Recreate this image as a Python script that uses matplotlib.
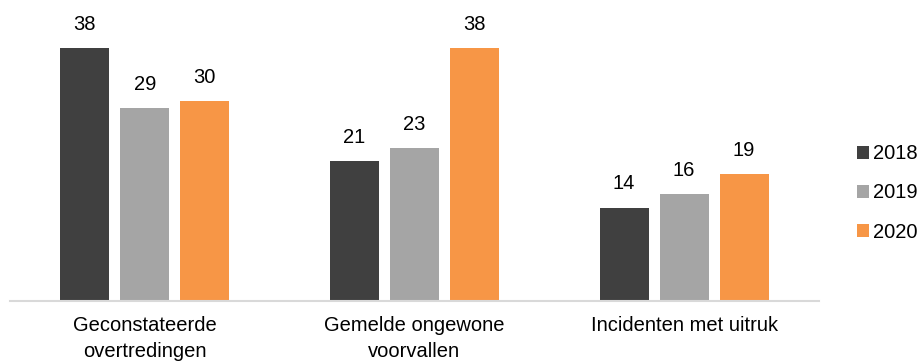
import matplotlib
matplotlib.use("Agg")
import matplotlib.pyplot as plt
import numpy as np
from matplotlib.patches import Patch

plt.rcParams['font.family'] = ['Liberation Sans', 'DejaVu Sans']

categories = ["Geconstateerde\novertredingen", "Gemelde ongewone\nvoorvallen", "Incidenten met uitruk"]
years = ["2018", "2019", "2020"]
values_2018 = [38, 21, 14]
values_2019 = [29, 23, 16]
values_2020 = [30, 38, 19]
colors = ["#404040", "#a5a5a5", "#f79646"]

W, H = 923, 361
FS = 14.5
fig = plt.figure(figsize=(W / 100, H / 100), dpi=100)
ax = fig.add_axes([10 / W, (H - 301) / H, 809 / W, 301 / H])

x = np.arange(len(categories))
bw = 0.182
step = 0.2225
series = [values_2018, values_2019, values_2020]
for i, (vals, c) in enumerate(zip(series, colors)):
    pos = x + (i - 1) * step
    bars = ax.bar(pos, vals, width=bw, color=c, zorder=2)
    for b, v in zip(bars, vals):
        ax.text(b.get_x() + b.get_width() / 2, v + 2.15, str(v),
                ha="center", va="bottom", fontsize=FS, color="#000000")

ax.set_xlim(-0.5, len(categories) - 0.5)
ax.set_ylim(0, 45.2)
for s in ["top", "right", "left"]:
    ax.spines[s].set_visible(False)
ax.spines["bottom"].set_color("#d9d9d9")
ax.spines["bottom"].set_linewidth(1.5)
ax.set_yticks([])
ax.set_xticks(x)
ax.set_xticklabels(categories, fontsize=FS, linespacing=1.45)
ax.tick_params(axis="x", length=0, pad=11)

handles = [Patch(facecolor=c, edgecolor="none") for c in colors]
fig.legend(handles, years, loc="center left", bbox_to_anchor=(857 / W, (H - 193) / H),
           frameon=False, fontsize=FS, handlelength=0.6, handleheight=0.6,
           handletextpad=0.2, labelspacing=1.0, borderaxespad=0, borderpad=0)

fig.savefig("out.png", dpi=100)
